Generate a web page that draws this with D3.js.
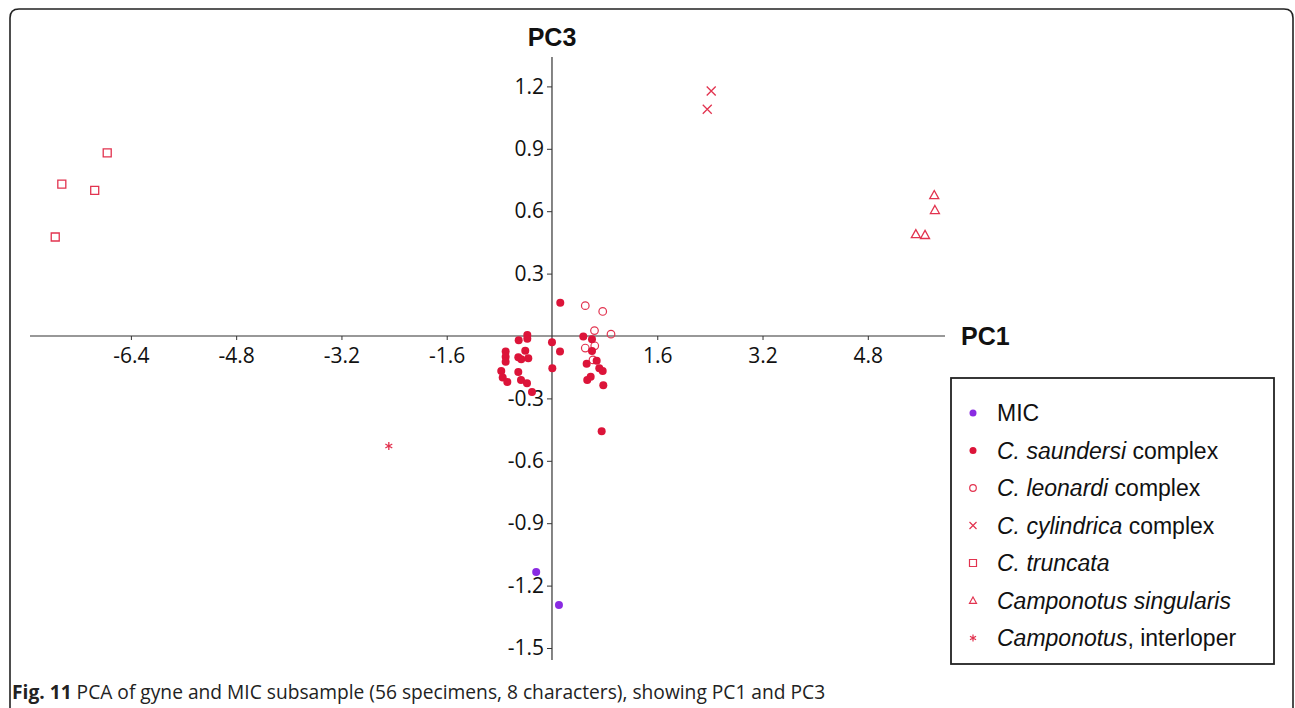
<!DOCTYPE html>
<html>
<head>
<meta charset="utf-8">
<script src="https://cdn.jsdelivr.net/npm/d3@7"></script>
<style>
  html, body { margin: 0; padding: 0; background: #fff; }
  svg { display: block; }
</style>
</head>
<body>
<svg id="chart" width="1295" height="708"></svg>
<script>
// PCA scores (PC1, PC3) per group
const micPoints = [[-0.24, -1.135], [0.106, -1.293]];
const saundersiPoints = [
  [0.126, 0.160], [-0.375, 0.005], [-0.506, -0.021], [-0.375, -0.013], [0.0, -0.030],
  [0.476, -0.003], [0.608, -0.016], [0.122, -0.074], [-0.704, -0.074], [-0.704, -0.100],
  [-0.704, -0.124], [-0.406, -0.071], [-0.512, -0.102], [-0.467, -0.112], [-0.360, -0.107],
  [0.608, -0.072], [0.679, -0.119], [0.527, -0.133], [0.005, -0.155], [-0.771, -0.168],
  [-0.512, -0.173], [-0.749, -0.200], [-0.679, -0.221], [-0.471, -0.212], [-0.380, -0.227],
  [0.719, -0.155], [0.771, -0.168], [0.588, -0.196], [0.536, -0.212], [0.780, -0.237],
  [-0.304, -0.269], [0.755, -0.458]
];
const leonardiPoints = [
  [0.506, 0.146], [0.771, 0.118], [0.646, 0.026], [0.897, 0.009],
  [0.506, -0.058], [0.650, -0.047], [0.623, -0.115]
];
const cylindricaPoints = [[2.42, 1.178], [2.36, 1.09]];
const truncataPoints = [[-6.76, 0.88], [-7.45, 0.73], [-6.95, 0.70], [-7.55, 0.476]];
const singularisPoints = [[5.81, 0.678], [5.82, 0.606], [5.53, 0.49], [5.67, 0.486]];
const interloperPoints = [[-2.48, -0.529]];

const xTicks = [-6.4, -4.8, -3.2, -1.6, 1.6, 3.2, 4.8];
const yTicks = [1.2, 0.9, 0.6, 0.3, -0.3, -0.6, -0.9, -1.2, -1.5];

const legendItems = [
  { italic: "", rest: "MIC", shape: "dot", color: "#8a2be2" },
  { italic: "C. saundersi", rest: " complex", shape: "dot", color: "#dc1439" },
  { italic: "C. leonardi", rest: " complex", shape: "ring", color: "#e2334f" },
  { italic: "C. cylindrica", rest: " complex", shape: "times", color: "#e2334f" },
  { italic: "C. truncata", rest: "", shape: "square", color: "#e2334f" },
  { italic: "Camponotus singularis", rest: "", shape: "triangle", color: "#e2334f" },
  { italic: "Camponotus", rest: ", interloper", shape: "asterisk", color: "#e2334f" }
];

const svg = d3.select("#chart");

// frame with rounded top corners
svg.append("path")
  .attr("d", "M10,712 L10,18 Q10,9 19,9 L1284,9 Q1293,9 1293,18 L1293,712")
  .attr("fill", "none").attr("stroke", "#222").attr("stroke-width", 1.6);

const x = d3.scaleLinear().domain([-6.4, 4.8]).range([130.9, 867.8]);
const y = d3.scaleLinear().domain([-1.5, 1.2]).range([648, 86.4]);

const x0 = x(0), y0 = y(0);
const tickFont = "'Open Sans', sans-serif";
const fmt = d => d3.format(".1f")(d).replace("\u2212", "-");

// axis lines crossing at origin
svg.append("line").attr("x1", 30).attr("x2", 945).attr("y1", y0).attr("y2", y0)
  .attr("stroke", "#333").attr("stroke-width", 1.2);
svg.append("line").attr("x1", x0).attr("x2", x0).attr("y1", 57).attr("y2", 660)
  .attr("stroke", "#333").attr("stroke-width", 1.2);

const xAxis = svg.append("g").attr("transform", `translate(0,${y0})`)
  .call(d3.axisBottom(x).tickValues(xTicks).tickSize(4).tickPadding(8).tickFormat(fmt));
const yAxis = svg.append("g").attr("transform", `translate(${x0},0)`)
  .call(d3.axisLeft(y).tickValues(yTicks).tickSize(5).tickPadding(3).tickFormat(fmt));
[xAxis, yAxis].forEach(g => {
  g.select(".domain").remove();
  g.selectAll(".tick line").attr("stroke", "#333");
  g.selectAll(".tick text")
    .attr("font-family", tickFont).attr("font-size", 21).attr("fill", "#111");
});

// axis titles
svg.append("text").attr("x", x0).attr("y", 46).attr("text-anchor", "middle")
  .attr("font-family", "'Liberation Sans', Arial, sans-serif").attr("font-weight", "bold")
  .attr("font-size", 25).attr("fill", "#111").text("PC3");
svg.append("text").attr("x", 961).attr("y", 345)
  .attr("font-family", "'Liberation Sans', Arial, sans-serif").attr("font-weight", "bold")
  .attr("font-size", 25).attr("fill", "#111").text("PC1");

// marker paths centred on (0,0)
function markerPath(shape, s) {
  const h = s / 2;
  switch (shape) {
    case "square": return `M${-h},${-h}H${h}V${h}H${-h}Z`;
    case "triangle": return `M0,${-h}L${h},${h * 0.8}L${-h},${h * 0.8}Z`;
    case "times": return `M${-h},${-h}L${h},${h}M${h},${-h}L${-h},${h}`;
    case "asterisk": {
      let p = `M0,${-h}V${h}`;
      const a = h * 0.866, b = h * 0.5;
      p += `M${-a},${-b}L${a},${b}M${a},${-b}L${-a},${b}`;
      return p;
    }
  }
}

function drawDots(data, r, color) {
  svg.append("g").selectAll("circle").data(data).join("circle")
    .attr("cx", d => x(d[0])).attr("cy", d => y(d[1])).attr("r", r).attr("fill", color);
}
function drawRings(data, r, color) {
  svg.append("g").selectAll("circle").data(data).join("circle")
    .attr("cx", d => x(d[0])).attr("cy", d => y(d[1])).attr("r", r)
    .attr("fill", "none").attr("stroke", color).attr("stroke-width", 1.2);
}
function drawShapes(data, shape, s, color) {
  svg.append("g").selectAll("path").data(data).join("path")
    .attr("transform", d => `translate(${x(d[0])},${y(d[1])})`)
    .attr("d", markerPath(shape, s))
    .attr("fill", "none").attr("stroke", color).attr("stroke-width", 1.3);
}

const red = "#dc1439", pink = "#e2334f";
drawRings(leonardiPoints, 3.8, pink);
drawDots(saundersiPoints, 4, red);
drawDots(micPoints, 4, "#8a2be2");
drawShapes(truncataPoints, "square", 8, pink);
drawShapes(cylindricaPoints, "times", 9, pink);
drawShapes(singularisPoints, "triangle", 9, pink);
drawShapes(interloperPoints, "asterisk", 8, pink);

// legend
const lg = svg.append("g");
lg.append("rect").attr("x", 951).attr("y", 378).attr("width", 323).attr("height", 286)
  .attr("fill", "#fff").attr("stroke", "#222").attr("stroke-width", 1.8);
legendItems.forEach((it, i) => {
  const cy = 413 + i * 37.5;
  const mx = 973;
  if (it.shape === "dot") {
    lg.append("circle").attr("cx", mx).attr("cy", cy).attr("r", 3.5).attr("fill", it.color);
  } else if (it.shape === "ring") {
    lg.append("circle").attr("cx", mx).attr("cy", cy).attr("r", 3.3)
      .attr("fill", "none").attr("stroke", it.color).attr("stroke-width", 1.2);
  } else {
    lg.append("path").attr("transform", `translate(${mx},${cy})`)
      .attr("d", markerPath(it.shape, 7))
      .attr("fill", "none").attr("stroke", it.color).attr("stroke-width", 1.2);
  }
  const t = lg.append("text").attr("x", 997).attr("y", cy + 8)
    .attr("font-family", "'Liberation Sans', Arial, sans-serif").attr("font-size", 23).attr("fill", "#111");
  if (it.italic) t.append("tspan").attr("font-style", "italic").text(it.italic);
  if (it.rest) t.append("tspan").text(it.rest);
});

// caption
const cap = svg.append("text").attr("x", 12).attr("y", 699)
  .attr("font-family", "'Open Sans', sans-serif").attr("font-size", 19.2).attr("fill", "#222");
cap.append("tspan").attr("font-weight", "bold").text("Fig. 11");
cap.append("tspan").text(" PCA of gyne and MIC subsample (56 specimens, 8 characters), showing PC1 and PC3");
</script>
</body>
</html>
